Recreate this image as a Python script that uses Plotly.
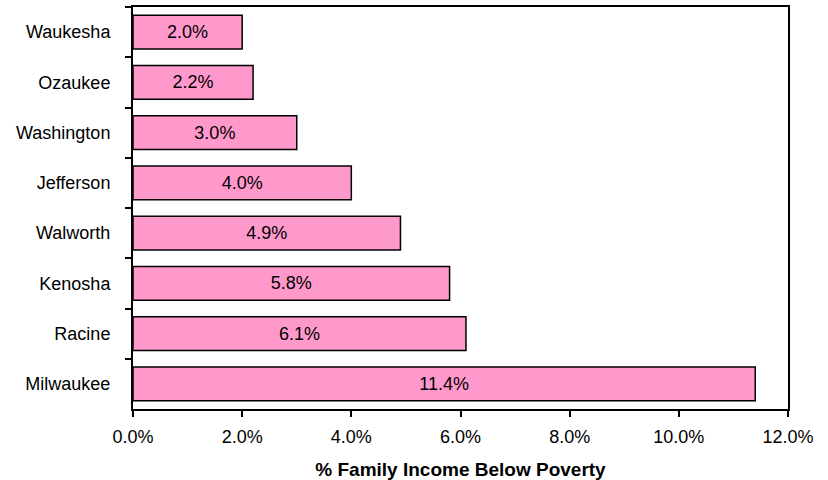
import plotly.graph_objects as go

counties = ["Waukesha", "Ozaukee", "Washington", "Jefferson", "Walworth", "Kenosha", "Racine", "Milwaukee"]
poverty_pct = [2.0, 2.2, 3.0, 4.0, 4.9, 5.8, 6.1, 11.4]
x_ticks = [0, 2, 4, 6, 8, 10, 12]
x_tick_labels = ["0.0%", "2.0%", "4.0%", "6.0%", "8.0%", "10.0%", "12.0%"]

FONT = "Liberation Sans, Arial, sans-serif"

fig = go.Figure(go.Bar(
    x=poverty_pct,
    y=counties,
    orientation="h",
    marker=dict(color="#FF99CC", line=dict(color="black", width=1.5)),
    width=0.67,
    text=[f"{v:.1f}%" for v in poverty_pct],
    textposition="inside",
    insidetextanchor="middle",
    textangle=0,
    textfont=dict(family=FONT, size=18, color="black"),
    cliponaxis=False,
))

fig.update_layout(
    width=828, height=480,
    margin=dict(l=133, r=40, t=7, b=71),
    paper_bgcolor="white", plot_bgcolor="white",
    font=dict(family=FONT, size=18, color="black"),
    showlegend=False,
)
fig.update_xaxes(
    range=[0, 12], tickvals=x_ticks, ticktext=x_tick_labels,
    showgrid=False, zeroline=False, automargin=False,
    showline=True, linecolor="black", linewidth=2, mirror=True,
    ticks="outside", ticklen=6, tickcolor="black", tickwidth=1.5,
    ticklabelstandoff=4,
    tickfont=dict(size=18),
    title=dict(text="<b>% Family Income Below Poverty</b>", font=dict(size=19), standoff=20),
)
fig.update_yaxes(
    autorange="reversed", showgrid=False, zeroline=False, automargin=False,
    showline=True, linecolor="black", linewidth=2, mirror=True,
    ticks="outside", ticklen=6, tickcolor="black", tickwidth=1.5,
    tickson="boundaries", ticklabelstandoff=17,
    tickfont=dict(size=18),
)

fig.write_html("out.html",
               config={"displayModeBar": False},
               post_script="document.body.style.margin='0';document.body.style.overflow='hidden';")
